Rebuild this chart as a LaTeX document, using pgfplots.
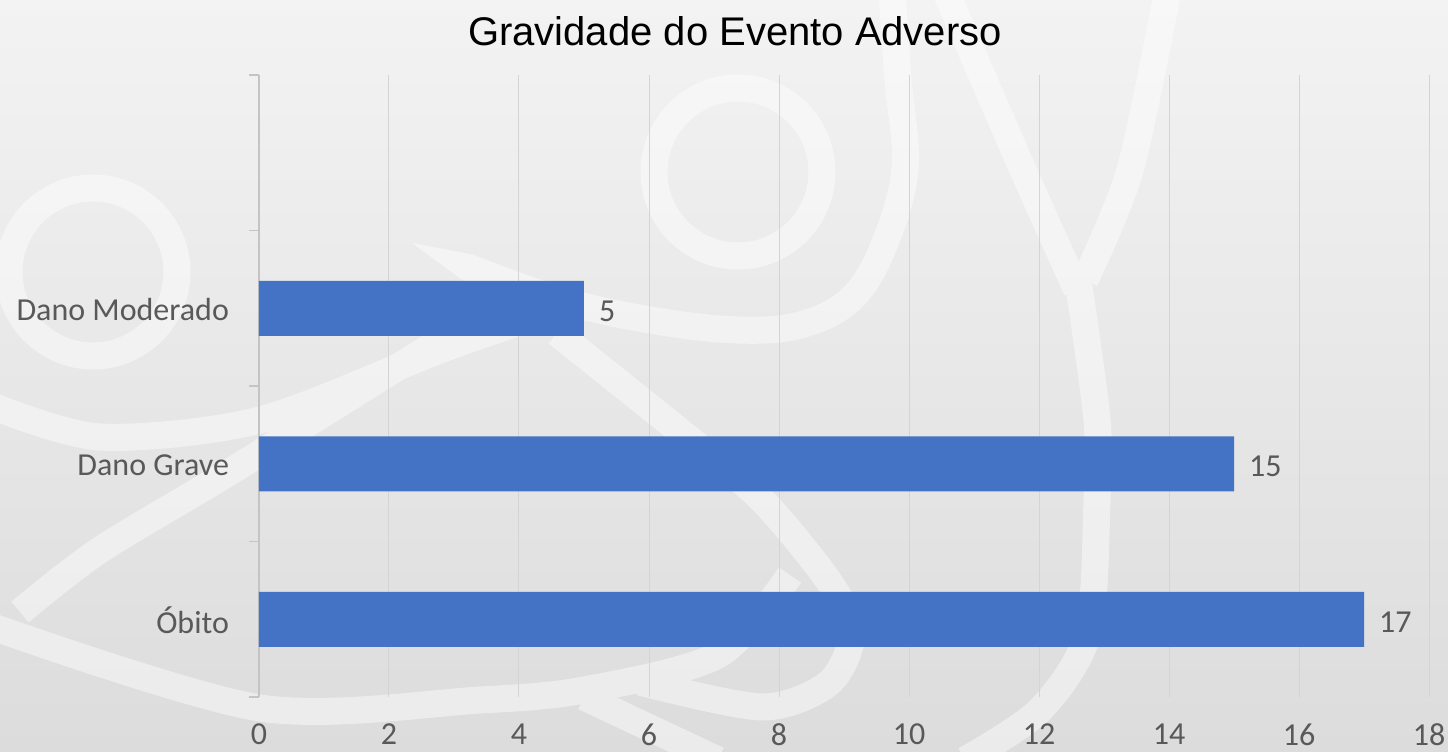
\documentclass[border=0pt]{standalone}
\usepackage{pgfplots}
\pgfplotsset{compat=1.18}
\usepackage{fontspec}
\setmainfont{Carlito}
\newfontfamily\arialfont{Liberation Sans}
\definecolor{barblue}{HTML}{4472C4}
\definecolor{txtgray}{HTML}{595959}
\definecolor{gridgray}{HTML}{D4D4D4}
\definecolor{axisgray}{HTML}{C4C4C4}
\definecolor{bgtop}{HTML}{F3F3F3}
\definecolor{bgbot}{HTML}{DCDCDC}
\begin{document}
\begin{tikzpicture}
\useasboundingbox (0,0) rectangle (724pt,375.5pt);
\shade[top color=bgtop, bottom color=bgbot] (0,0) rectangle (724pt,375.5pt);
% decorative background shapes (pixel coordinates)
\begin{scope}[shift={(0pt,375.5pt)}, x=0.5pt, y=-0.5pt]
\clip (0,0) rectangle (1448,751);
\begin{scope}[transparency group, opacity=0.45]
\begin{scope}[draw=white, line width=13.5pt, line cap=butt]
\draw (93,272) circle (84);
\draw (738,172) circle (84);
% hook
\draw plot[smooth, tension=0.6] coordinates {(470,268) (560,300) (650,320) (737,330) (800,325) (850,300) (882,250) (905,170) (898,80) (892,-10)};
% Y
\draw plot[smooth] coordinates {(945,-10) (1023,170) (1077,290)};
\draw plot[smooth] coordinates {(1168,-10) (1130,170) (1085,280)};
\draw plot[smooth] coordinates {(1078,280) (1097,420) (1097,500) (1088,633) (1040,710) (965,760)};
% long diagonal
\draw plot[smooth] coordinates {(470,322) (233,470) (100,550) (20,612)};
% band A
\draw plot[smooth] coordinates {(-10,405) (100,437) (260,420) (440,350) (540,315)};
% bottom arc
\draw plot[smooth] coordinates {(-10,626) (260,708) (480,700) (584,690) (718,655) (790,575)};
% loop
\draw plot[smooth] coordinates {(557,333) (682,433) (762,500) (830,583) (852,633) (829,683) (762,707) (640,682)};
\draw plot[smooth] coordinates {(584,697) (718,760)};
\end{scope}
\fill[white] (412,243) -- (475,255) -- (465,282) -- cycle;
\end{scope}
\end{scope}
\begin{axis}[
  at={(129.5pt,27pt)}, anchor=south west, scale only axis,
  width=585pt, height=311pt,
  xbar, bar width=27.5pt,
  xmin=0, xmax=18, ymin=-0.5, ymax=3.5,
  xtick={0,2,...,18},
  ytick={0,1,2}, yticklabels={Óbito,Dano Grave,Dano Moderado},
  minor ytick={-0.5,0.5,1.5,2.5,3.5},
  ytick pos=left, xtick pos=bottom,
  tick align=outside,
  major tick length=0pt, minor tick length=5pt,
  minor tick style={draw=axisgray, line width=0.6pt},
  axis line style={draw=none},
  xmajorgrids, grid style={draw=gridgray, line width=0.5pt},
  extra x ticks={0}, extra x tick labels={},
  extra x tick style={grid style={draw=axisgray, line width=0.7pt}},
  /pgf/number format/assume math mode=true,
  ticklabel style={font=\fontsize{16}{19}\selectfont, text=txtgray},
  xticklabel style={yshift=-10pt},
  yticklabel style={xshift=-11.5pt, yshift=-0.5pt},
  nodes near coords,
  nodes near coords style={font=\fontsize{16}{19}\selectfont, text=txtgray, xshift=4pt, yshift=-1.5pt},
  clip=false,
]
\addplot[fill=barblue, draw=none] coordinates {(17,0) (15,1) (5,2)};
\end{axis}
\node[font=\arialfont\fontsize{20}{24}\selectfont, text=black] at (367.5pt,360pt) {Gravidade do Evento Adverso};
\end{tikzpicture}
\end{document}
